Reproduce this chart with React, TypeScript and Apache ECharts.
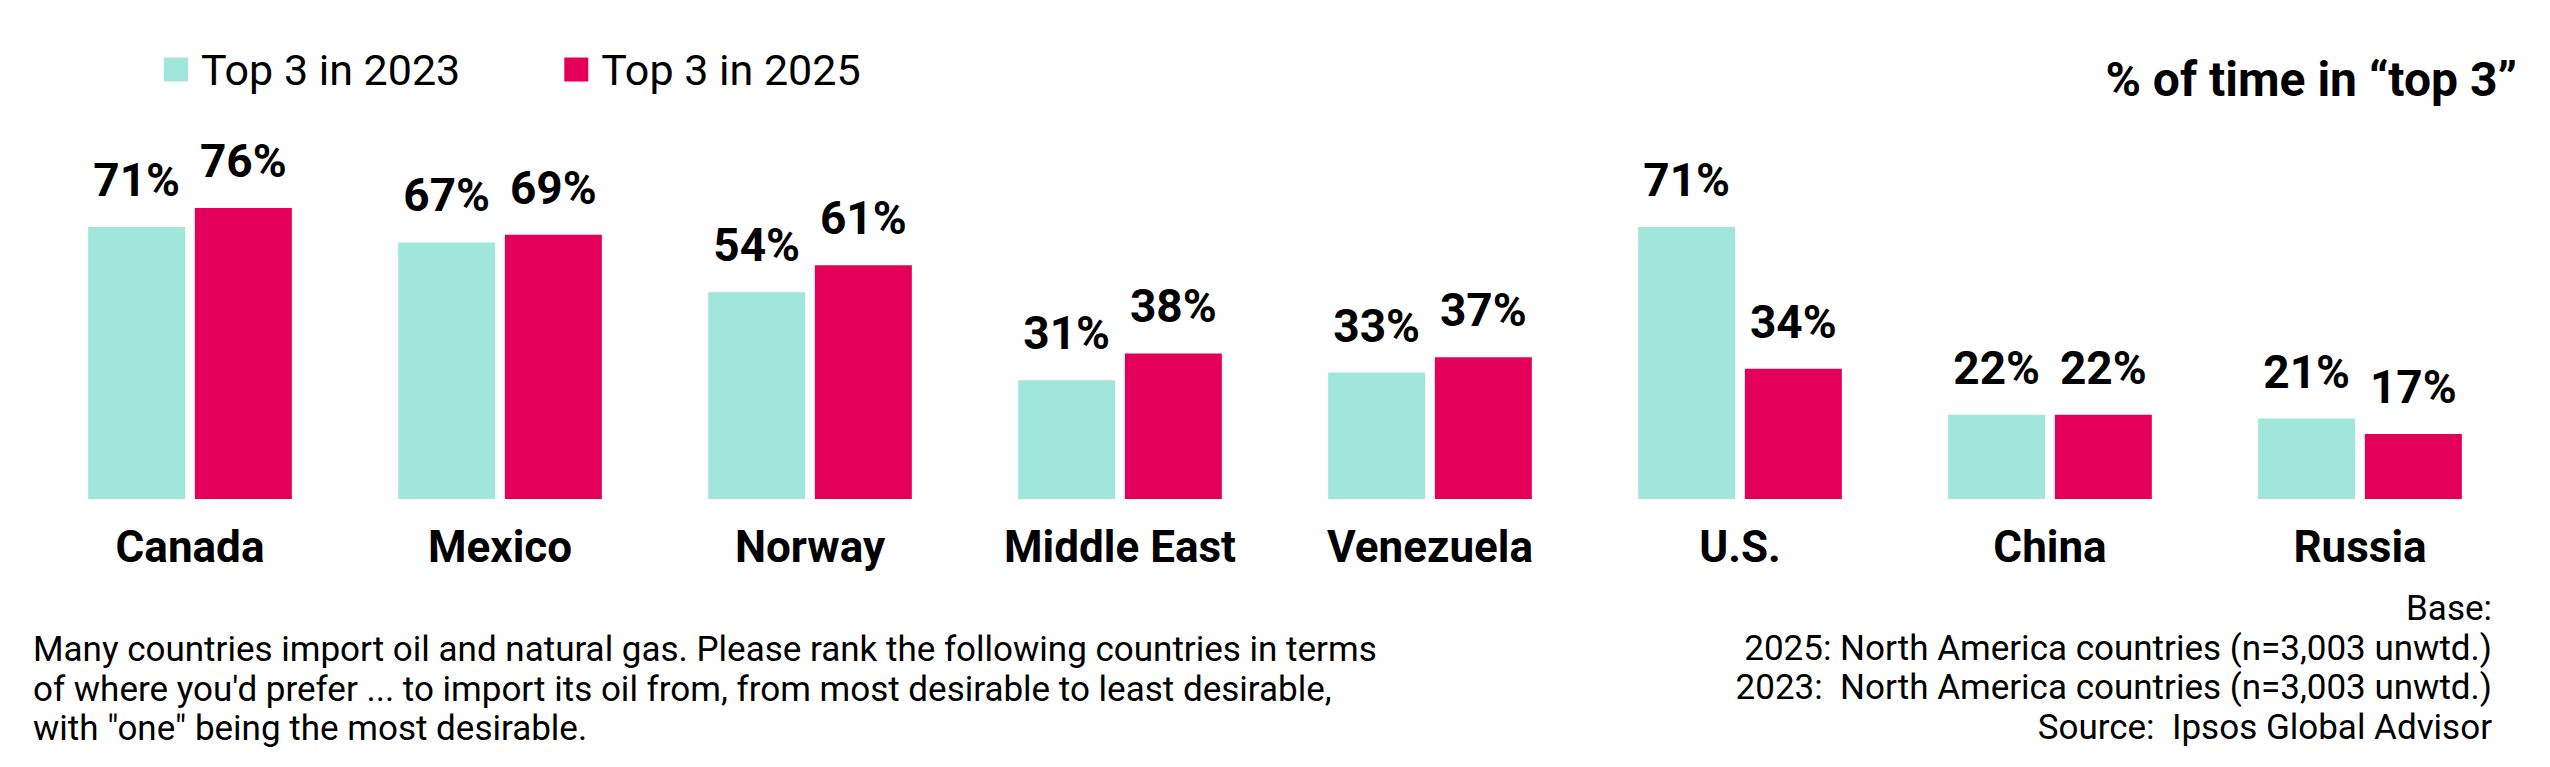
import * as echarts from 'echarts';
import { useEffect, useRef } from 'react';

const categories = ['Canada', 'Mexico', 'Norway', 'Middle East', 'Venezuela', 'U.S.', 'China', 'Russia'];
const top2023 = [71, 67, 54, 31, 33, 71, 22, 21];
const top2025 = [76, 69, 61, 38, 37, 34, 22, 17];
const seriesNames = ['Top 3 in 2023', 'Top 3 in 2025'];

const titleText = '% of time in \u201Ctop 3\u201D';
const questionLines = [
  'Many countries import oil and natural gas. Please rank the following countries in terms',
  "of where you'd prefer ... to import its oil from, from most desirable to least desirable,",
  'with "one" being the most desirable.',
];
const baseLines = [
  'Base:',
  '2025: North America countries (n=3,003 unwtd.)',
  '2023:  North America countries (n=3,003 unwtd.)',
  'Source:  Ipsos Global Advisor',
];

const FONT = 'Roboto, "Noto Sans", sans-serif';
const TEAL = '#A1E6DA';
const PINK = '#E4005A';

const App = () => {
  const chartRef = useRef<HTMLDivElement>(null);

  useEffect(() => {
    if (!chartRef.current) return;
    const chart = echarts.init(chartRef.current, undefined, { renderer: 'svg' });

    const barLabel = {
      show: true,
      position: 'top',
      distance: 24,
      formatter: '{c}%',
      fontSize: 46,
      fontWeight: 'bold',
      fontFamily: FONT,
      color: '#000',
    };

    chart.setOption({
      animation: false,
      backgroundColor: '#fff',
      textStyle: { fontFamily: FONT },
      legend: {
        data: seriesNames,
        left: 164,
        top: 48,
        padding: 0,
        icon: 'rect',
        itemWidth: 24,
        itemHeight: 24,
        itemGap: 104,
        textStyle: { fontSize: 43, color: '#000', fontFamily: FONT, padding: [0, 0, 0, 8] },
      },
      grid: { left: 35, right: 35, top: 116, bottom: 268 },
      xAxis: {
        type: 'category',
        data: categories,
        axisLine: { show: false },
        axisTick: { show: false },
        axisLabel: {
          fontSize: 44,
          fontWeight: 'bold',
          fontFamily: FONT,
          color: '#000',
          margin: 26,
          interval: 0,
        },
      },
      yAxis: { type: 'value', min: 0, max: 100, show: false },
      series: [
        {
          name: seriesNames[0],
          type: 'bar',
          data: top2023,
          barWidth: 97,
          barGap: '10%',
          itemStyle: { color: TEAL },
          label: barLabel,
        },
        {
          name: seriesNames[1],
          type: 'bar',
          data: top2025,
          barWidth: 97,
          barGap: '10%',
          itemStyle: { color: PINK },
          label: barLabel,
        },
      ],
      graphic: [
        {
          type: 'text',
          x: 2517,
          y: 79,
          style: {
            text: titleText,
            fontSize: 48,
            fontWeight: 'bold',
            fontFamily: FONT,
            fill: '#000',
            align: 'right',
            verticalAlign: 'middle',
          },
        },
        {
          type: 'text',
          x: 33,
          y: 630,
          style: {
            text: questionLines.join('\n'),
            fontSize: 35,
            lineHeight: 39.5,
            fontFamily: FONT,
            fill: '#000',
            align: 'left',
            verticalAlign: 'top',
          },
        },
        {
          type: 'text',
          x: 2492,
          y: 589,
          style: {
            text: baseLines.join('\n'),
            fontSize: 35,
            lineHeight: 39.5,
            fontFamily: FONT,
            fill: '#000',
            align: 'right',
            verticalAlign: 'top',
          },
        },
      ],
    });

    return () => {
      chart.dispose();
    };
  }, []);

  return (
    <div
      ref={chartRef}
      style={{ position: 'fixed', left: 0, top: 0, width: 2550, height: 767 }}
    />
  );
};

export default App;
